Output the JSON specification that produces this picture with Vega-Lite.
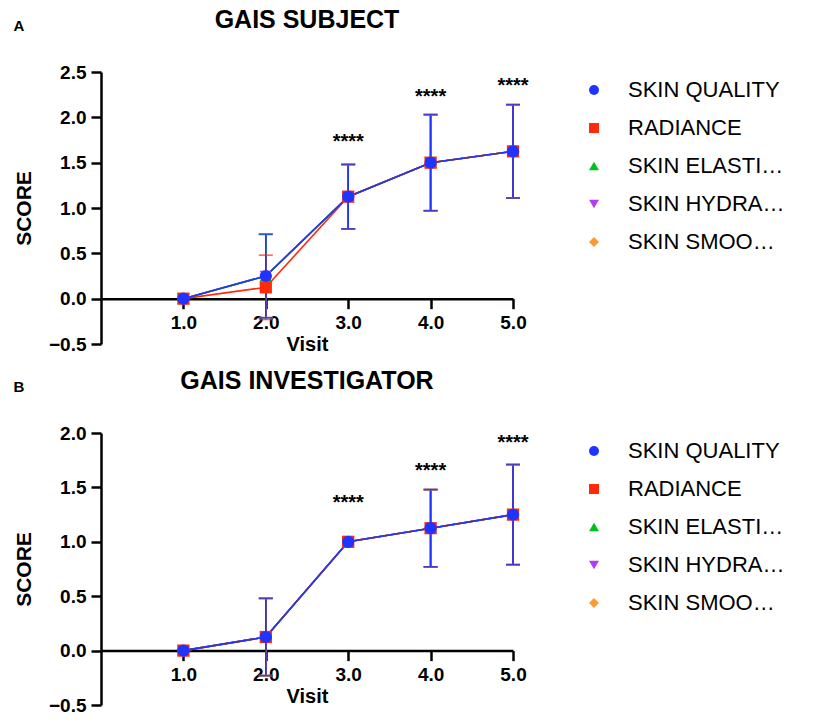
{
  "$schema": "https://vega.github.io/schema/vega-lite/v6.json",
  "background": "white",
  "padding": {"left": 13, "top": 8, "right": 0, "bottom": 0},
  "config": {
    "font": "Liberation Sans",
    "view": {"stroke": null},
    "title": {"fontSize": 25, "fontWeight": "bold", "color": "black", "font": "Liberation Sans"},
    "axis": {"grid": false, "domainColor": "black", "tickColor": "black", "labelColor": "black", "titleColor": "black", "labelFont": "Liberation Sans", "titleFont": "Liberation Sans"}
  },
  "datasets": {
    "subject": [
      {"series": "SKIN SMOOTHNESS", "visit": 1, "score": 0, "lo": 0, "hi": 0},
      {"series": "SKIN SMOOTHNESS", "visit": 2, "score": 0.25, "lo": -0.21, "hi": 0.71},
      {"series": "SKIN SMOOTHNESS", "visit": 3, "score": 1.125, "lo": 0.77, "hi": 1.48},
      {"series": "SKIN SMOOTHNESS", "visit": 4, "score": 1.5, "lo": 0.97, "hi": 2.03},
      {"series": "SKIN SMOOTHNESS", "visit": 5, "score": 1.625, "lo": 1.11, "hi": 2.14},
      {"series": "SKIN HYDRATION", "visit": 1, "score": 0, "lo": 0, "hi": 0},
      {"series": "SKIN HYDRATION", "visit": 2, "score": 0.25, "lo": -0.21, "hi": 0.71},
      {"series": "SKIN HYDRATION", "visit": 3, "score": 1.125, "lo": 0.77, "hi": 1.48},
      {"series": "SKIN HYDRATION", "visit": 4, "score": 1.5, "lo": 0.97, "hi": 2.03},
      {"series": "SKIN HYDRATION", "visit": 5, "score": 1.625, "lo": 1.11, "hi": 2.14},
      {"series": "SKIN ELASTICITY", "visit": 1, "score": 0, "lo": 0, "hi": 0},
      {"series": "SKIN ELASTICITY", "visit": 2, "score": 0.25, "lo": -0.21, "hi": 0.71},
      {"series": "SKIN ELASTICITY", "visit": 3, "score": 1.125, "lo": 0.77, "hi": 1.48},
      {"series": "SKIN ELASTICITY", "visit": 4, "score": 1.5, "lo": 0.97, "hi": 2.03},
      {"series": "SKIN ELASTICITY", "visit": 5, "score": 1.625, "lo": 1.11, "hi": 2.14},
      {"series": "RADIANCE", "visit": 1, "score": 0, "lo": 0, "hi": 0},
      {"series": "RADIANCE", "visit": 2, "score": 0.125, "lo": -0.23, "hi": 0.48},
      {"series": "RADIANCE", "visit": 3, "score": 1.125, "lo": 0.77, "hi": 1.48},
      {"series": "RADIANCE", "visit": 4, "score": 1.5, "lo": 0.97, "hi": 2.03},
      {"series": "RADIANCE", "visit": 5, "score": 1.625, "lo": 1.11, "hi": 2.14},
      {"series": "SKIN QUALITY", "visit": 1, "score": 0, "lo": 0, "hi": 0},
      {"series": "SKIN QUALITY", "visit": 2, "score": 0.25, "lo": -0.21, "hi": 0.71},
      {"series": "SKIN QUALITY", "visit": 3, "score": 1.125, "lo": 0.77, "hi": 1.48},
      {"series": "SKIN QUALITY", "visit": 4, "score": 1.5, "lo": 0.97, "hi": 2.03},
      {"series": "SKIN QUALITY", "visit": 5, "score": 1.625, "lo": 1.11, "hi": 2.14}
    ],
    "investigator": [
      {"series": "SKIN SMOOTHNESS", "visit": 1, "score": 0, "lo": 0, "hi": 0},
      {"series": "SKIN SMOOTHNESS", "visit": 2, "score": 0.125, "lo": -0.23, "hi": 0.48},
      {"series": "SKIN SMOOTHNESS", "visit": 3, "score": 1.0, "lo": 1.0, "hi": 1.0},
      {"series": "SKIN SMOOTHNESS", "visit": 4, "score": 1.125, "lo": 0.77, "hi": 1.48},
      {"series": "SKIN SMOOTHNESS", "visit": 5, "score": 1.25, "lo": 0.79, "hi": 1.71},
      {"series": "SKIN HYDRATION", "visit": 1, "score": 0, "lo": 0, "hi": 0},
      {"series": "SKIN HYDRATION", "visit": 2, "score": 0.125, "lo": -0.23, "hi": 0.48},
      {"series": "SKIN HYDRATION", "visit": 3, "score": 1.0, "lo": 1.0, "hi": 1.0},
      {"series": "SKIN HYDRATION", "visit": 4, "score": 1.125, "lo": 0.77, "hi": 1.48},
      {"series": "SKIN HYDRATION", "visit": 5, "score": 1.25, "lo": 0.79, "hi": 1.71},
      {"series": "SKIN ELASTICITY", "visit": 1, "score": 0, "lo": 0, "hi": 0},
      {"series": "SKIN ELASTICITY", "visit": 2, "score": 0.125, "lo": -0.23, "hi": 0.48},
      {"series": "SKIN ELASTICITY", "visit": 3, "score": 1.0, "lo": 1.0, "hi": 1.0},
      {"series": "SKIN ELASTICITY", "visit": 4, "score": 1.125, "lo": 0.77, "hi": 1.48},
      {"series": "SKIN ELASTICITY", "visit": 5, "score": 1.25, "lo": 0.79, "hi": 1.71},
      {"series": "RADIANCE", "visit": 1, "score": 0, "lo": 0, "hi": 0},
      {"series": "RADIANCE", "visit": 2, "score": 0.125, "lo": -0.23, "hi": 0.48},
      {"series": "RADIANCE", "visit": 3, "score": 1.0, "lo": 1.0, "hi": 1.0},
      {"series": "RADIANCE", "visit": 4, "score": 1.125, "lo": 0.77, "hi": 1.48},
      {"series": "RADIANCE", "visit": 5, "score": 1.25, "lo": 0.79, "hi": 1.71},
      {"series": "SKIN QUALITY", "visit": 1, "score": 0, "lo": 0, "hi": 0},
      {"series": "SKIN QUALITY", "visit": 2, "score": 0.125, "lo": -0.23, "hi": 0.48},
      {"series": "SKIN QUALITY", "visit": 3, "score": 1.0, "lo": 1.0, "hi": 1.0},
      {"series": "SKIN QUALITY", "visit": 4, "score": 1.125, "lo": 0.77, "hi": 1.48},
      {"series": "SKIN QUALITY", "visit": 5, "score": 1.25, "lo": 0.79, "hi": 1.71}
    ],
    "sigA": [
      {"visit": 3, "y": 1.78, "label": "****"},
      {"visit": 4, "y": 2.28, "label": "****"},
      {"visit": 5, "y": 2.4, "label": "****"}
    ],
    "sigB": [
      {"visit": 3, "y": 1.4, "label": "****"},
      {"visit": 4, "y": 1.7, "label": "****"},
      {"visit": 5, "y": 1.95, "label": "****"}
    ]
  },
  "spacing": 14,
  "vconcat": [
    {
      "title": {"text": "A", "anchor": "start", "fontSize": 15, "offset": -26},
      "vconcat": [
        {
          "width": 412,
          "height": 272,
          "title": {"text": "GAIS SUBJECT", "offset": 30},
          "data": {"name": "subject"},
          "layer": [
            {
              "transform": [{"filter": "datum.hi > datum.lo"}],
              "mark": {"type": "rule", "strokeWidth": 1.6},
              "encoding": {
                "x": {"field": "visit", "type": "quantitative", "scale": {"domain": [0, 5], "nice": false}, "axis": {"title": "Visit", "values": [1, 2, 3, 4, 5], "offset": -45.33, "domainWidth": 2.5, "tickWidth": 2.5, "tickSize": 10, "labelFontSize": 19, "labelFontWeight": "bold", "labelPadding": 5, "labelFlush": false, "labelOverlap": false, "titleFontSize": 20, "titleFontWeight": "bold", "titlePadding": 2}},
                "y": {"field": "lo", "type": "quantitative", "scale": {"domain": [-0.5, 2.5], "nice": false, "zero": false}, "axis": {"title": "SCORE", "values": [-0.5, 0, 0.5, 1, 1.5, 2, 2.5], "format": ".1f", "domainWidth": 2.5, "tickWidth": 2.5, "tickSize": 10, "labelFontSize": 19, "labelFontWeight": "bold", "labelPadding": 5, "labelFlush": false, "labelOverlap": false, "titleFontSize": 21, "titleFontWeight": "bold", "titlePadding": 14}},
                "y2": {"field": "hi"},
                "color": {"field": "series", "type": "nominal", "scale": {"domain": ["SKIN QUALITY", "RADIANCE", "SKIN ELASTICITY", "SKIN HYDRATION", "SKIN SMOOTHNESS"], "range": ["#1f35ff", "#ff2a0a", "#00c01a", "#b33cf2", "#ff9933"]}, "legend": {"title": null, "orient": "none", "legendX": 482, "legendY": 7, "padding": 0, "labelFontSize": 22, "labelColor": "black", "labelFont": "Liberation Sans", "symbolSize": 100, "labelOffset": 23, "rowPadding": 16, "encode": {"symbols": {"update": {
                  "shape": {"signal": "datum.value === 'SKIN QUALITY' ? 'M-3,-0.2H3V0.2H-3Z M-1,0A1,1,0,1,1,1,0A1,1,0,1,1,-1,0Z' : datum.value === 'RADIANCE' ? 'M-3,-0.2H3V0.2H-3Z M-1,-1H1V1H-1Z' : datum.value === 'SKIN ELASTICITY' ? 'M-3,-0.2H3V0.2H-3Z M0,-1.1L1.1,0.9H-1.1Z' : datum.value === 'SKIN HYDRATION' ? 'M-3,-0.2H3V0.2H-3Z M0,1.1L-1.1,-0.9H1.1Z' : 'M-3,-0.2H3V0.2H-3Z M0,-1.1L1,0L0,1.1L-1,0Z'"},
                  "fill": {"signal": "datum.value === 'SKIN QUALITY' ? '#1f35ff' : datum.value === 'RADIANCE' ? '#ff2a0a' : datum.value === 'SKIN ELASTICITY' ? '#00c01a' : datum.value === 'SKIN HYDRATION' ? '#b33cf2' : '#ff9933'"},
                  "strokeWidth": {"value": 0},
                  "opacity": {"value": 1},
                  "fillOpacity": {"value": 1}
                }}}}}
              }
            },
            {
              "transform": [{"filter": "datum.hi > datum.lo"}],
              "mark": {"type": "tick", "orient": "horizontal", "size": 14, "thickness": 1.6},
              "encoding": {
                "x": {"field": "visit", "type": "quantitative"},
                "y": {"field": "lo", "type": "quantitative"},
                "color": {"field": "series", "type": "nominal"}
              }
            },
            {
              "transform": [{"filter": "datum.hi > datum.lo"}],
              "mark": {"type": "tick", "orient": "horizontal", "size": 14, "thickness": 1.6},
              "encoding": {
                "x": {"field": "visit", "type": "quantitative"},
                "y": {"field": "hi", "type": "quantitative"},
                "color": {"field": "series", "type": "nominal"}
              }
            },
            {
              "mark": {"type": "line", "strokeWidth": 1.6},
              "encoding": {
                "x": {"field": "visit", "type": "quantitative"},
                "y": {"field": "score", "type": "quantitative"},
                "color": {"field": "series", "type": "nominal"}
              }
            },
            {
              "mark": {"type": "point", "filled": true, "opacity": 1, "size": 150},
              "encoding": {
                "x": {"field": "visit", "type": "quantitative"},
                "y": {"field": "score", "type": "quantitative"},
                "color": {"field": "series", "type": "nominal"},
                "shape": {"field": "series", "type": "nominal", "scale": {"domain": ["SKIN QUALITY", "RADIANCE", "SKIN ELASTICITY", "SKIN HYDRATION", "SKIN SMOOTHNESS"], "range": ["circle", "square", "triangle-up", "triangle-down", "diamond"]}, "legend": null}
              }
            },
            {
              "data": {"name": "sigA"},
              "mark": {"type": "text", "fontSize": 20, "fontWeight": "bold", "color": "black", "dy": 5},
              "encoding": {
                "x": {"field": "visit", "type": "quantitative"},
                "y": {"field": "y", "type": "quantitative"},
                "text": {"field": "label"}
              }
            }
          ]
        }
      ]
    },
    {
      "title": {"text": "B", "anchor": "start", "fontSize": 15, "offset": -26},
      "vconcat": [
        {
          "width": 412,
          "height": 272,
          "title": {"text": "GAIS INVESTIGATOR", "offset": 30},
          "data": {"name": "investigator"},
          "layer": [
            {
              "transform": [{"filter": "datum.hi > datum.lo"}],
              "mark": {"type": "rule", "strokeWidth": 1.6},
              "encoding": {
                "x": {"field": "visit", "type": "quantitative", "scale": {"domain": [0, 5], "nice": false}, "axis": {"title": "Visit", "values": [1, 2, 3, 4, 5], "offset": -54.4, "domainWidth": 2.5, "tickWidth": 2.5, "tickSize": 10, "labelFontSize": 19, "labelFontWeight": "bold", "labelPadding": 5, "labelFlush": false, "labelOverlap": false, "titleFontSize": 20, "titleFontWeight": "bold", "titlePadding": 2}},
                "y": {"field": "lo", "type": "quantitative", "scale": {"domain": [-0.5, 2.0], "nice": false, "zero": false}, "axis": {"title": "SCORE", "values": [-0.5, 0, 0.5, 1, 1.5, 2], "format": ".1f", "domainWidth": 2.5, "tickWidth": 2.5, "tickSize": 10, "labelFontSize": 19, "labelFontWeight": "bold", "labelPadding": 5, "labelFlush": false, "labelOverlap": false, "titleFontSize": 21, "titleFontWeight": "bold", "titlePadding": 14}},
                "y2": {"field": "hi"},
                "color": {"field": "series", "type": "nominal", "scale": {"domain": ["SKIN QUALITY", "RADIANCE", "SKIN ELASTICITY", "SKIN HYDRATION", "SKIN SMOOTHNESS"], "range": ["#1f35ff", "#ff2a0a", "#00c01a", "#b33cf2", "#ff9933"]}, "legend": {"title": null, "orient": "none", "legendX": 482, "legendY": 7, "padding": 0, "labelFontSize": 22, "labelColor": "black", "labelFont": "Liberation Sans", "symbolSize": 100, "labelOffset": 23, "rowPadding": 16, "encode": {"symbols": {"update": {
                  "shape": {"signal": "datum.value === 'SKIN QUALITY' ? 'M-3,-0.2H3V0.2H-3Z M-1,0A1,1,0,1,1,1,0A1,1,0,1,1,-1,0Z' : datum.value === 'RADIANCE' ? 'M-3,-0.2H3V0.2H-3Z M-1,-1H1V1H-1Z' : datum.value === 'SKIN ELASTICITY' ? 'M-3,-0.2H3V0.2H-3Z M0,-1.1L1.1,0.9H-1.1Z' : datum.value === 'SKIN HYDRATION' ? 'M-3,-0.2H3V0.2H-3Z M0,1.1L-1.1,-0.9H1.1Z' : 'M-3,-0.2H3V0.2H-3Z M0,-1.1L1,0L0,1.1L-1,0Z'"},
                  "fill": {"signal": "datum.value === 'SKIN QUALITY' ? '#1f35ff' : datum.value === 'RADIANCE' ? '#ff2a0a' : datum.value === 'SKIN ELASTICITY' ? '#00c01a' : datum.value === 'SKIN HYDRATION' ? '#b33cf2' : '#ff9933'"},
                  "strokeWidth": {"value": 0},
                  "opacity": {"value": 1},
                  "fillOpacity": {"value": 1}
                }}}}}
              }
            },
            {
              "transform": [{"filter": "datum.hi > datum.lo"}],
              "mark": {"type": "tick", "orient": "horizontal", "size": 14, "thickness": 1.6},
              "encoding": {
                "x": {"field": "visit", "type": "quantitative"},
                "y": {"field": "lo", "type": "quantitative"},
                "color": {"field": "series", "type": "nominal"}
              }
            },
            {
              "transform": [{"filter": "datum.hi > datum.lo"}],
              "mark": {"type": "tick", "orient": "horizontal", "size": 14, "thickness": 1.6},
              "encoding": {
                "x": {"field": "visit", "type": "quantitative"},
                "y": {"field": "hi", "type": "quantitative"},
                "color": {"field": "series", "type": "nominal"}
              }
            },
            {
              "mark": {"type": "line", "strokeWidth": 1.6},
              "encoding": {
                "x": {"field": "visit", "type": "quantitative"},
                "y": {"field": "score", "type": "quantitative"},
                "color": {"field": "series", "type": "nominal"}
              }
            },
            {
              "mark": {"type": "point", "filled": true, "opacity": 1, "size": 150},
              "encoding": {
                "x": {"field": "visit", "type": "quantitative"},
                "y": {"field": "score", "type": "quantitative"},
                "color": {"field": "series", "type": "nominal"},
                "shape": {"field": "series", "type": "nominal", "scale": {"domain": ["SKIN QUALITY", "RADIANCE", "SKIN ELASTICITY", "SKIN HYDRATION", "SKIN SMOOTHNESS"], "range": ["circle", "square", "triangle-up", "triangle-down", "diamond"]}, "legend": null}
              }
            },
            {
              "data": {"name": "sigB"},
              "mark": {"type": "text", "fontSize": 20, "fontWeight": "bold", "color": "black", "dy": 5},
              "encoding": {
                "x": {"field": "visit", "type": "quantitative"},
                "y": {"field": "y", "type": "quantitative"},
                "text": {"field": "label"}
              }
            }
          ]
        }
      ]
    }
  ],
  "resolve": {"scale": {"y": "independent", "x": "independent", "color": "independent", "shape": "independent"}, "legend": {"color": "independent", "shape": "independent"}, "axis": {"x": "independent", "y": "independent"}}
}
